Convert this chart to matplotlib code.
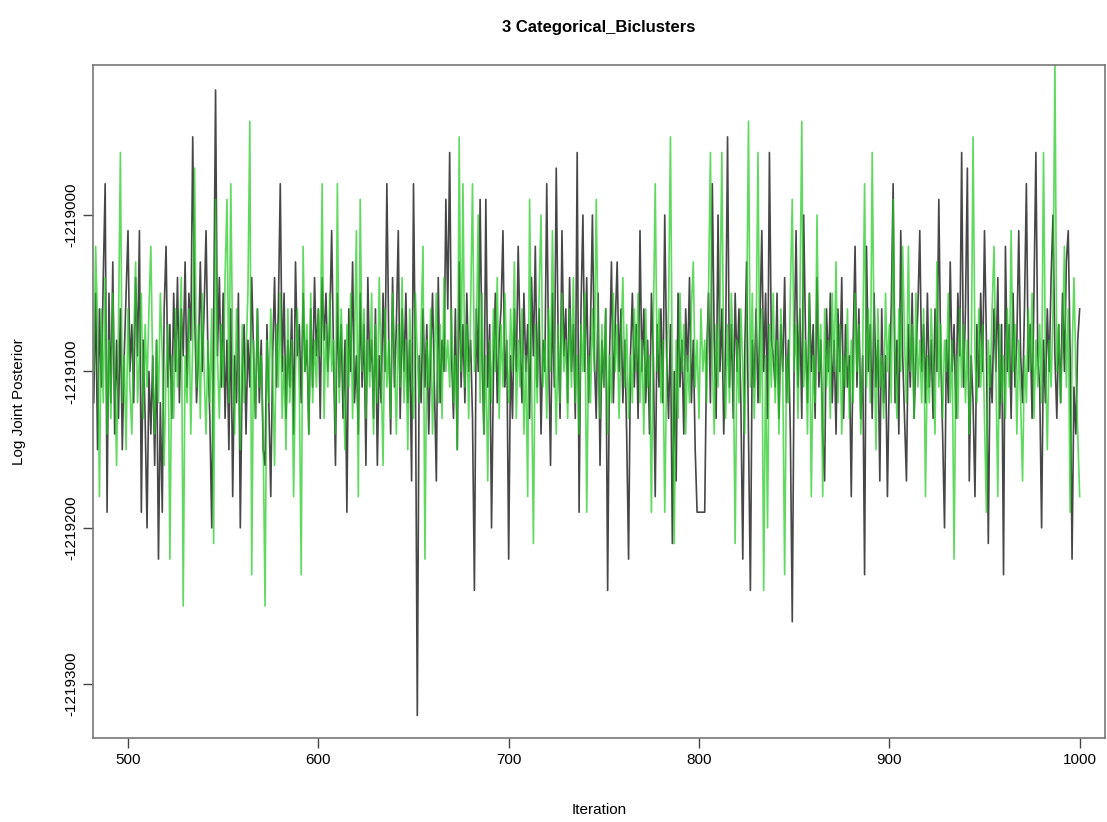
import numpy as np
import matplotlib
matplotlib.use("Agg")
import matplotlib.pyplot as plt

plt.rcParams['font.family'] = ['Liberation Sans', 'DejaVu Sans']
plt.rcParams['axes.unicode_minus'] = False

# values, in steps of 10 below the baseline
base = -1219000
iterations = list(range(482, 1001))

chain_black = [
    12, 5, 15, 6, 11, 4, -2, 19,
    5, 12, 3, 14, 8, 13, 6, 15, 9, 5,
    1, 10, 7, 12, 4, 9, 1, 19, 8, 13,
    20, 10, 14, 9, 16, 8, 22, 12, 19, 6,
    2, 11, 7, 13, 5, 10, 4, 12, 6, 9,
    3, 11, 5, 8, -5, 6, 12, 9, 3, 10,
    6, 1, 9, 13, 20, 7, -8, 9, 4, 11,
    5, 13, 8, 15, 6, 18, 9, 12, 5, 20,
    10, 7, 14, 8, 11, 4, 9, 13, 6, 12,
    8, 15, 16, 7, 12, 18, 9, 4, 11, 6,
    -2, 10, 5, 13, 8, 11, 6, 14, 3, 9,
    7, 12, 5, 10, 8, 14, 6, 11, 4, 9,
    6, 13, 4, 8, 5, 10, 7, 1, 9, 16,
    5, 11, 7, 13, 8, 19, 6, 10, 3, 12,
    9, 14, 5, 11, 7, 16, 4, 10, 8, 13,
    6, 16, 9, 12, 5, 10, -2, 8, 14, 4,
    11, 7, 1, 13, 6, 10, 5, 12, 8, 17,
    -2, 10, 32, 9, 12, 6, 11, 7, 14, 9,
    5, 11, 17, 4, 12, 8, 10, -1, 6, -4,
    9, 13, 6, 15, 3, 11, 7, 12, 5, 10,
    8, 13, 24, 6, 10, -1, 9, 14, -1, 11,
    7, 20, 10, 5, 12, 8, 6, 1, 11, 8,
    22, 9, 13, 6, 10, 2, 8, 12, 5, 10,
    7, 13, 4, 9, 2, 11, 6, 14, 8, 10,
    -2, 9, 16, 5, 11, -3, 8, 13, 1, 9,
    6, 12, 4, 10, 7, 13, -4, 19, 6, 0,
    10, 4, 12, 7, 0, 9, 13, 5, 16, 8,
    11, 6, 24, 9, 3, 12, 7, 3, 10, 6,
    12, 8, 14, 22, 9, 5, 11, 7, 13, 1,
    10, 6, 12, 8, 14, 5, 9, 18, 7, 11,
    6, 12, 0, 9, 13, 7, 21, 10, 17, 5,
    11, 8, 14, 6, 10, 4, 12, 8, 15, 19,
    19, 19, 19, 19, 9, 5, 12, -2, 8, 13,
    0, 10, 6, 14, 8, -5, 11, 7, 13, 5,
    10, 6, 12, 22, 9, 3, 14, 24, 8, 11,
    6, 12, 7, 1, 10, 5, 13, -4, 8, 9,
    11, 5, 13, 7, 10, 4, 12, 8, 14, 26,
    9, 1, 11, 6, 13, 0, 8, 12, 5, 10,
    7, 13, 4, 11, 8, 14, 17, 6, 10, 5,
    12, 8, 14, 6, 10, 4, 13, 7, 11, 9,
    18, 8, 2, 11, 6, 13, 9, 23, 2, 10,
    7, 13, 5, 11, 8, 17, 6, 12, 9, 18,
    10, 6, -2, 12, 8, 14, 1, 9, 13, 17,
    7, 11, 5, 13, 9, 6, 1, 10, 7, 12,
    5, 11, 8, 13, 6, 10, -1, 9, 14, 20,
    8, 12, 3, 10, 7, 13, 5, 9, -4, 11,
    6, -3, 17, 9, 12, 18, 7, 11, 5, 10,
    1, 8, 21, 9, 12, 6, 10, 4, 13, 7,
    23, 2, 10, 7, 13, 5, 11, 8, 1, 9,
    12, 6, -2, 10, 7, 13, 5, -4, 9, 11,
    20, 8, 12, 6, 10, 4, 0, 9, 13, 7,
    12, 5, 10, 3, 1, 9, 22, 11, 14, 8,
    6,
]

chain_green = [
    10, 2, 7, 18, 6, 12, 4, 14,
    8, 13, 5, 10, 16, 7, -4, 12, 9, 15,
    6, 11, 14, 8, 3, 12, 9, 5, 13, 7,
    11, 6, 2, 10, 14, 8, 12, 5, 9, 16,
    10, 7, 22, 9, 13, 6, 11, 8, 4, 25,
    9, 12, 6, 14, 8, -3, 11, 7, 13, 5,
    10, 14, 8, 12, 6, 21, -1, 9, 13, 7,
    11, 4, -1, 12, -2, 9, 14, 6, 10, 15,
    7, 12, 9, 5, -6, 23, 8, 13, 6, 11,
    9, 14, 25, 8, 12, 6, 10, 16, 7, 11,
    5, 13, 9, 15, 6, 12, 8, 18, 10, 6,
    11, 23, 2, 10, 7, 14, 5, 12, 8, 11,
    6, 9, -2, 13, 7, 11, 5, 10, 8, 14,
    -2, 12, 6, 10, 15, 7, 11, 5, 13, 8,
    1, 18, -1, 10, 6, 13, 8, 11, 5, 14,
    7, 12, 4, 10, 16, 6, 11, 8, 13, 5,
    9, 14, 7, 11, 4, 12, 8, 15, 6, 10,
    13, 5, 9, 12, 7, 2, 22, 8, 11, 6,
    14, 9, 5, 12, 7, 13, 4, 10, 8, 11,
    6, 12, 9, 15, -5, 10, -2, 11, 7, 13,
    6, -2, 10, 8, 0, 12, 5, 14, 9, 17,
    8, 12, 6, 10, 4, 13, 7, 11, 5, 9,
    12, 6, 10, 3, 13, 8, 11, 6, 14, 9,
    18, -1, 10, 21, 7, 12, 5, 0, 11, 8,
    13, 6, 10, 1, 9, 14, 7, 12, 5, 10,
    8, 13, 6, 11, 4, 12, 9, 14, 7, 10,
    5, 19, 9, 12, 6, 10, -1, 8, 13, 7,
    11, 6, 14, 9, 12, 5, 10, 7, 13, 8,
    4, 11, 7, 13, 9, 12, 6, 10, 5, 12,
    8, 14, 6, 11, 9, 19, 7, -2, 10, 6,
    12, 8, 19, 10, 6, -5, 11, 21, 8, 13,
    5, 10, 7, 14, 9, 12, 6, 3, 11, 8,
    13, 6, 10, 8, 12, 5, -4, 9, 14, 7,
    11, 6, -4, 10, 13, 7, 12, 5, 9, 21,
    8, 12, 6, 10, 14, 7, -6, 11, 5, 13,
    8, -4, 12, 6, 24, 9, 20, 7, 11, 5,
    12, 8, 14, 6, 10, 23, 9, 12, 5, -1,
    10, 7, 13, 6, -6, 11, 8, 14, 5, 18,
    9, 12, 0, 10, 7, 18, 6, 11, 8, 13,
    5, 10, 3, 12, 7, 14, 9, 11, 6, 13,
    8, 12, 5, 10, 7, 14, 9, -2, 11, 6,
    12, -4, 8, 15, 6, 11, 9, 13, 5, 10,
    7, 12, -1, 9, 13, 6, 10, 2, 8, 12,
    2, 10, 7, 13, 5, 11, 8, 12, 6, 18,
    9, 12, 6, 10, 14, 3, 11, 7, 13, 8,
    10, 5, 12, 8, 22, 9, 13, 6, 11, 7,
    12, 8, 14, 10, -5, 9, 12, 6, 11, 7,
    13, 19, 8, 11, 6, 2, 10, 18, 7, 12,
    9, 13, 6, 11, 1, 10, 7, 14, 8, 12,
    17, 9, 12, 6, 10, 5, 13, 8, 11, 7,
    12, -4, 9, 15, 8, 11, 6, -10, 10, 7,
    12, 8, 2, 11, 6, 19, 9, 4, 10, 14,
    18,
]

y_black = base - 10 * np.array(chain_black)
y_green = base - 10 * np.array(chain_green)

fig = plt.figure(figsize=(11.07, 8.22), dpi=100)
ax = fig.add_axes([0.084, 0.102, 0.914, 0.819])

ax.plot(iterations, y_black, color='black', alpha=0.72, lw=1.2)
ax.plot(iterations, y_green, color='#22cc22', alpha=0.72, lw=1.2)

ax.set_xlim(481.6, 1013.2)
ax.set_ylim(-1219334.5, -1218904)
ax.set_xticks([500, 600, 700, 800, 900, 1000])
ax.set_yticks([-1219000, -1219100, -1219200, -1219300])
ax.set_yticklabels(['-1219000', '-1219100', '-1219200', '-1219300'],
                   rotation=90, va='center')
ax.tick_params(colors='#444444', labelcolor='black', labelsize=11, length=7, width=1)
for s in ax.spines.values():
    s.set_color('#777777')
    s.set_linewidth(1.2)

ax.set_xlabel('Iteration', fontsize=11, labelpad=26)
ax.set_ylabel('Log Joint Posterior', fontsize=11, labelpad=28)
ax.set_title('3 Categorical_Biclusters', fontsize=12, fontweight='bold', pad=24)

fig.savefig('out.png', dpi=100)
